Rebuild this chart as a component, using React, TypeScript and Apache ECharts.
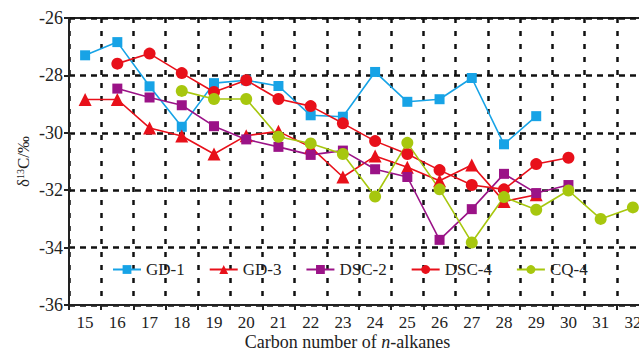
import React, { useEffect, useRef } from "react";
import * as echarts from "echarts";

const categories = ["15","16","17","18","19","20","21","22","23","24","25","26","27","28","29","30","31","32"];
const gd1 = [-27.30, -26.84, -28.38, -29.79, -28.27, -28.17, -28.37, -29.39, -29.44, -27.88, -28.92, -28.83, -28.09, -30.40, -29.42, null, null, null];
const gd3 = [-28.84, -28.84, -29.83, -30.11, -30.74, -30.10, -29.95, -30.50, -31.54, -30.81, -31.20, -31.67, -31.12, -32.39, -32.16, null, null, null];
const dsc2 = [null, -28.46, -28.77, -29.04, -29.77, -30.23, -30.49, -30.77, -30.62, -31.27, -31.54, -33.73, -32.66, -31.43, -32.10, -31.82, null, null];
const dsc4 = [null, -27.59, -27.24, -27.92, -28.58, -28.17, -28.82, -29.07, -29.67, -30.29, -30.74, -31.30, -31.82, -31.97, -31.09, -30.87, null, null];
const cq4 = [null, null, null, -28.54, -28.82, -28.82, -30.14, -30.37, -30.74, -32.22, -30.35, -31.97, -33.82, -32.24, -32.68, -32.01, -33.00, -32.60];

const FONT = "'Liberation Serif', 'Times New Roman', serif";

export default function App() {
  const ref = useRef<HTMLDivElement>(null);
  useEffect(() => {
    if (!ref.current) return;
    const chart = echarts.init(ref.current, undefined, { renderer: "svg" });
    const mk = (name: string, data: any[], color: string, symbol: string, size: number) => ({
      name,
      type: "line",
      data,
      symbol,
      symbolSize: size,
      connectNulls: false,
      lineStyle: { color, width: 1.6 },
      itemStyle: { color },
    });
    chart.setOption({
      animation: false,
      textStyle: { fontFamily: FONT },
      grid: {
        left: 69,
        right: -10,
        top: 18,
        bottom: 46,
        outerBoundsMode: "none",
        containLabel: false,
        show: true,
        borderColor: "#222",
        borderWidth: 2,
        backgroundColor: "transparent",
      },
      legend: {
        left: 107,
        top: 256,
        itemGap: 24,
        itemWidth: 28,
        itemHeight: 11,
        textStyle: { fontFamily: FONT, fontSize: 17, color: "#222" },
        data: ["GD-1", "GD-3", "DSC-2", "DSC-4", "CQ-4"],
      },
      xAxis: {
        type: "category",
        data: categories,
        boundaryGap: true,
        name: "Carbon number of {i|n}-alkanes",
        nameLocation: "middle",
        nameGap: 28,
        nameMoveOverlap: false,
        nameTextStyle: {
          fontFamily: FONT,
          fontSize: 18,
          color: "#222",
          padding: [0, 23, 0, 0],
          rich: { i: { fontFamily: FONT, fontSize: 18, fontStyle: "italic", color: "#222" } },
        },
        axisLine: { lineStyle: { color: "#222", width: 2 } },
        axisTick: { show: true, length: 5, lineStyle: { color: "#222", width: 2 } },
        axisLabel: { fontFamily: FONT, fontSize: 17, color: "#222", margin: 9 },
        splitLine: { show: true, lineStyle: { color: "#111", width: 2.5, type: [5, 8] } },
      },
      yAxis: {
        type: "value",
        min: -36,
        max: -26,
        interval: 2,
        name: "δ{s|13}C/‰",
        nameLocation: "middle",
        nameGap: 37,
        nameMoveOverlap: false,
        nameRotate: 90,
        nameTextStyle: {
          fontFamily: FONT,
          fontSize: 17,
          color: "#222",
          rich: { s: { fontFamily: FONT, fontSize: 10, color: "#222", verticalAlign: "top", padding: [0, 0, 6, 0] } },
        },
        axisLine: { show: true, lineStyle: { color: "#222", width: 2 } },
        axisTick: { show: true, length: 5, lineStyle: { color: "#222", width: 2 } },
        axisLabel: { fontFamily: FONT, fontSize: 18, color: "#222", margin: 6 },
        splitLine: { show: true, lineStyle: { color: "#111", width: 2.5, type: [6, 5] } },
      },
      series: [
        mk("GD-1", gd1, "#17A3E6", "rect", 10),
        mk("GD-3", gd3, "#E8101A", "triangle", 13),
        mk("DSC-2", dsc2, "#9B1387", "rect", 10),
        mk("DSC-4", dsc4, "#E8101A", "circle", 12),
        mk("CQ-4", cq4, "#A7C70E", "circle", 12),
      ],
    });
    return () => chart.dispose();
  }, []);
  return (
    <div
      ref={ref}
      style={{ position: "fixed", left: 0, top: 0, width: 639, height: 351, background: "#fff" }}
    />
  );
}
